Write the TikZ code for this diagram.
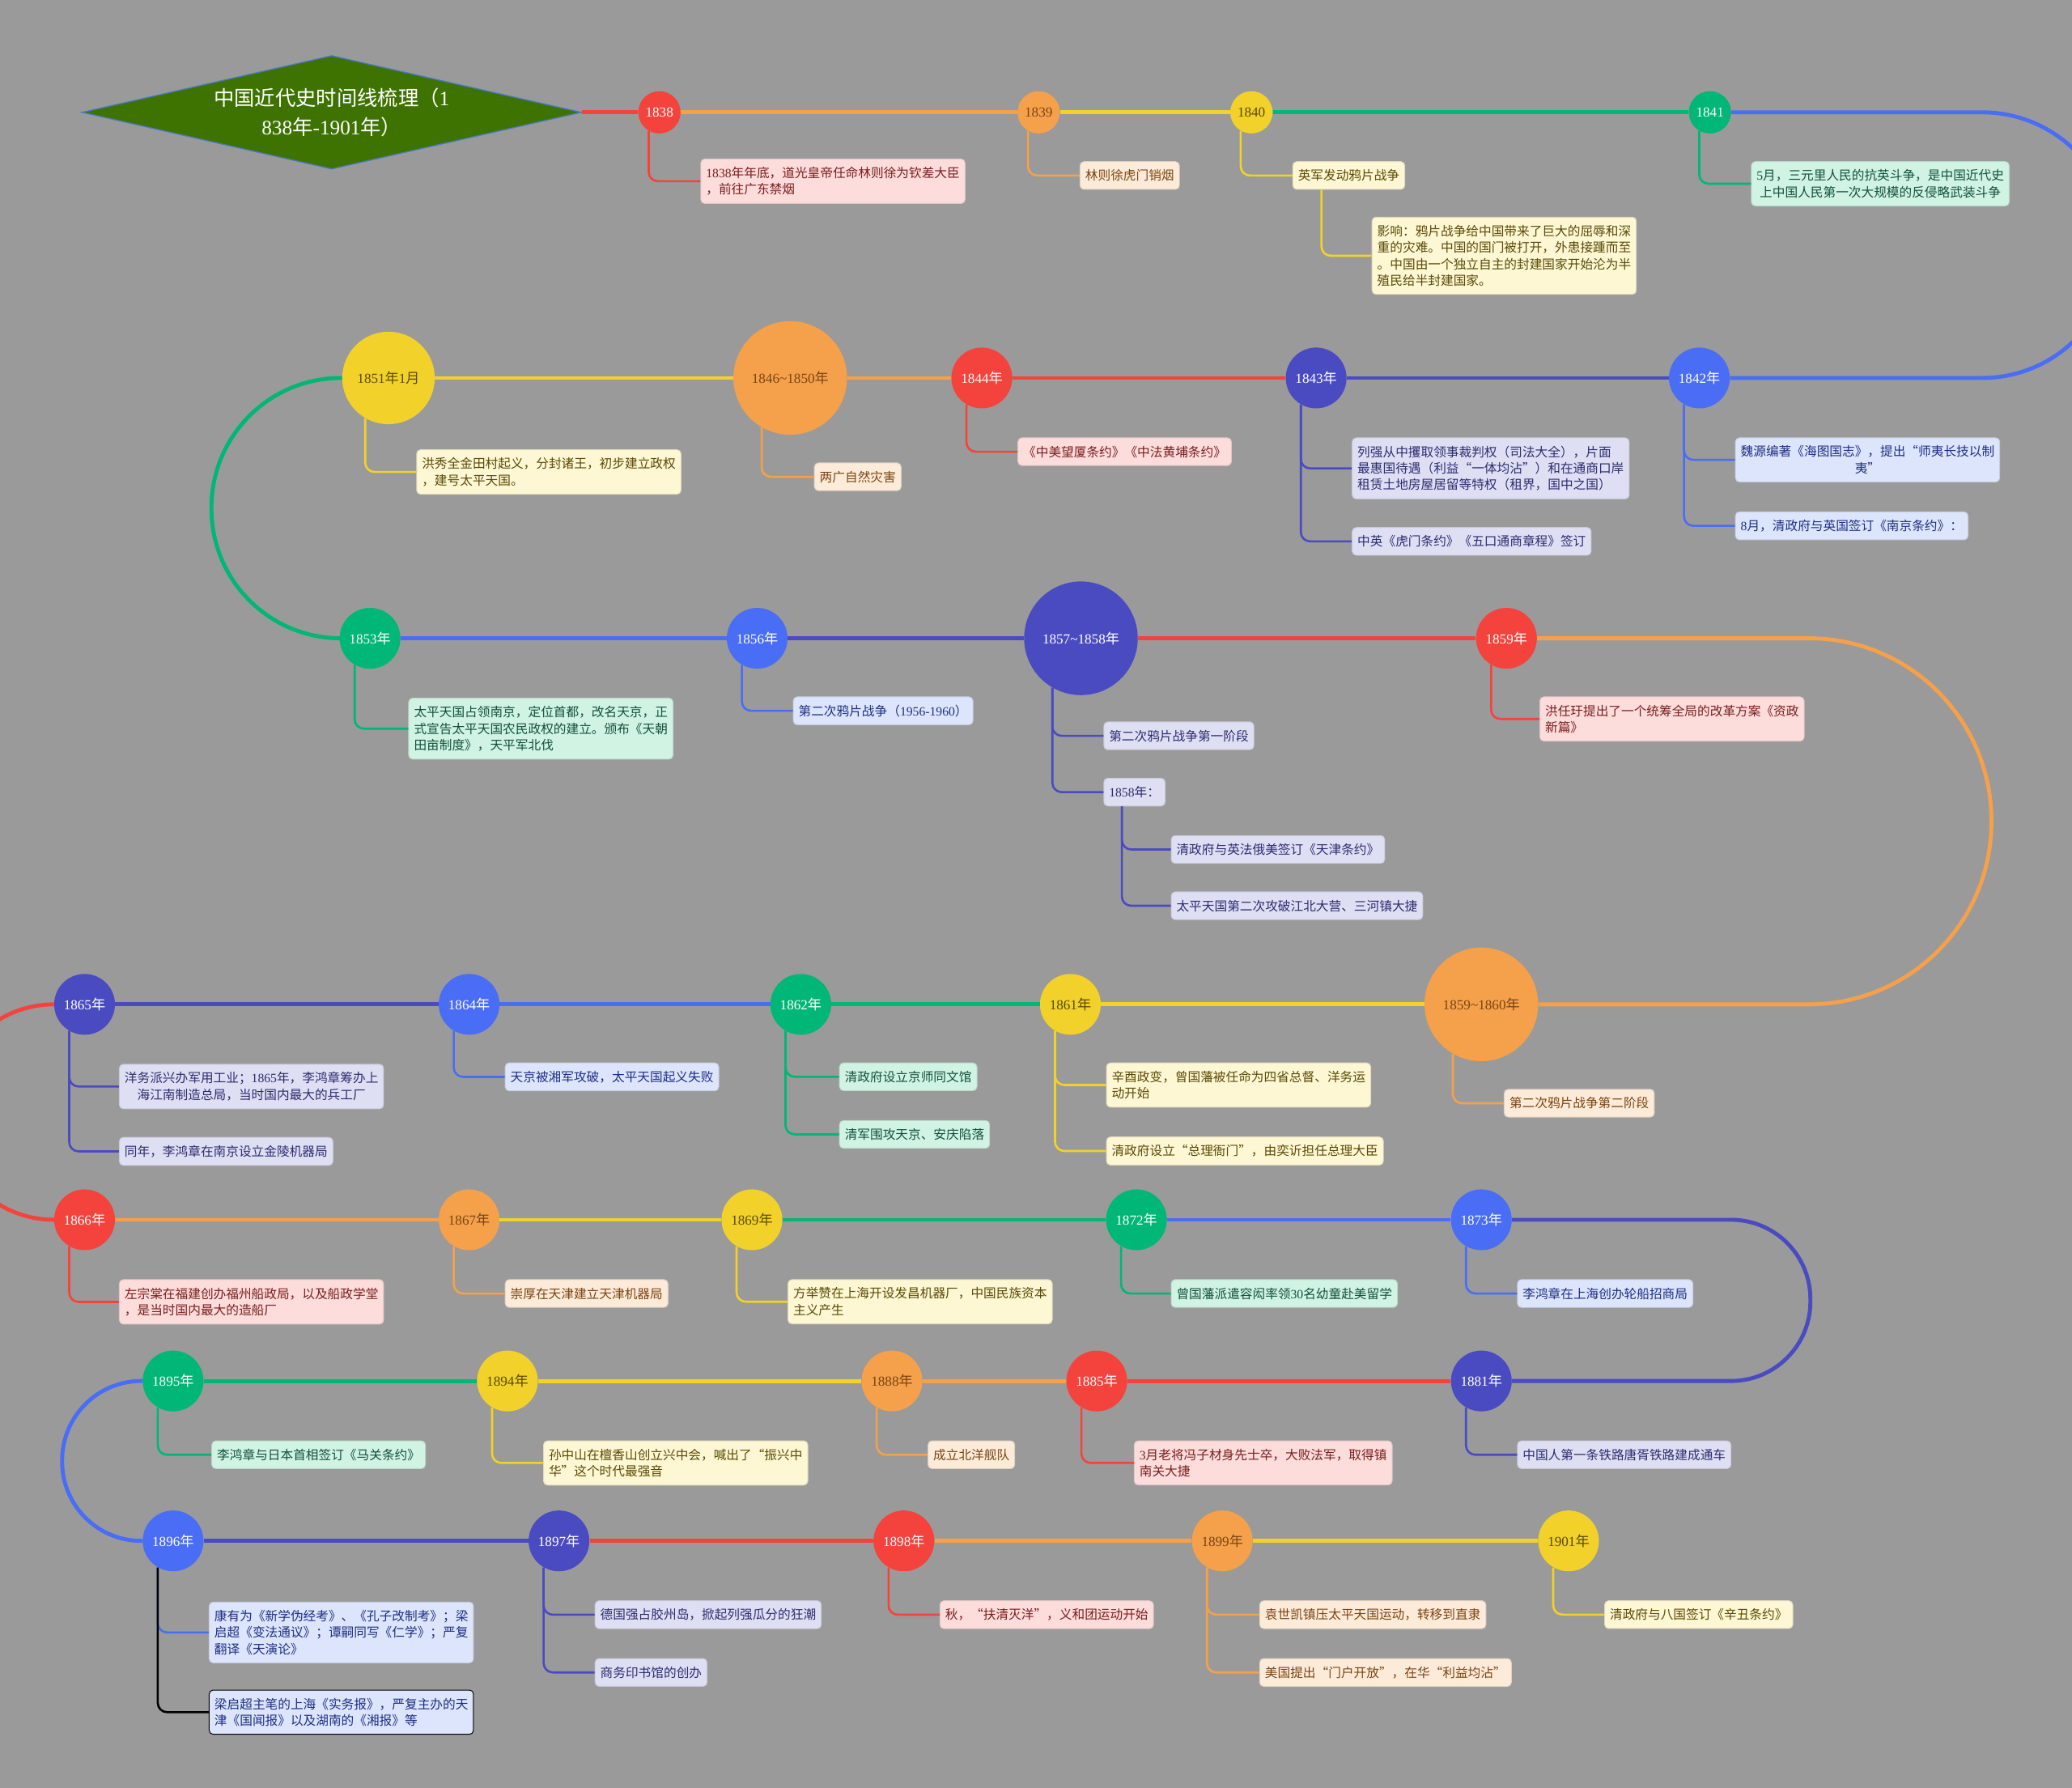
\documentclass[tikz,border=0pt]{standalone}
\usepackage{fontspec}
\setmainfont{Liberation Serif}
\newfontfamily\cjk{Noto Sans CJK SC}
\usetikzlibrary{positioning,shapes.geometric}
\definecolor{MapGray}{HTML}{9A9A9A}
\definecolor{TitleGreen}{HTML}{3E7301}
\definecolor{TitleEdge}{HTML}{4A78C8}
\definecolor{YrRed}{HTML}{F4433C}
\definecolor{YrOrange}{HTML}{F5A04B}
\definecolor{YrYellow}{HTML}{F1D12A}
\definecolor{YrGreen}{HTML}{00B777}
\definecolor{YrBlue}{HTML}{4A6DF5}
\definecolor{YrIndigo}{HTML}{4B4BC1}
\definecolor{SoftRed}{HTML}{FDDCDC}
\definecolor{SoftOrange}{HTML}{FDEBDA}
\definecolor{SoftYellow}{HTML}{FDF7D4}
\definecolor{SoftGreen}{HTML}{D0F3E4}
\definecolor{SoftBlue}{HTML}{DDE5FC}
\definecolor{SoftIndigo}{HTML}{DFDFF4}
\definecolor{InkRed}{HTML}{7A1E1E}
\definecolor{InkOrange}{HTML}{7A4512}
\definecolor{InkYellow}{HTML}{5A4A05}
\definecolor{InkGreen}{HTML}{12503A}
\definecolor{InkBlue}{HTML}{1E2E84}
\definecolor{InkIndigo}{HTML}{2C2C70}
\newcommand{\nian}{{\cjk 年}}
\newcommand{\yue}{{\cjk 月}}
\newcommand{\shu}[1]{{\rmfamily #1}}

\begin{document}
\begin{tikzpicture}[x=1pt,y=-1pt,
 title/.style={diamond,aspect=4.4,draw=TitleEdge,line width=.8pt,fill=TitleGreen,text=white,
               inner sep=0pt,minimum width=378pt,minimum height=86pt,align=center,
               font=\cjk\fontsize{15.5}{22}\selectfont},
 yr/.style={circle,inner sep=0pt,minimum size=46pt,text=white,
            font=\fontsize{10.5}{12}\selectfont},
 yrS/.style={yr,minimum size=32pt},
 yrM/.style={yr,minimum size=70pt},
 yrL/.style={yr,minimum size=86pt},
 cR/.style={fill=YrRed}, cO/.style={fill=YrOrange,text=InkOrange},
 cY/.style={fill=YrYellow,text=InkYellow}, cG/.style={fill=YrGreen},
 cB/.style={fill=YrBlue}, cI/.style={fill=YrIndigo},
 note/.style={rounded corners=3pt,anchor=north west,align=left,line width=.6pt,
              inner xsep=4pt,inner ysep=6pt,minimum height=21pt,
              font=\cjk\fontsize{9.6}{12.5}\selectfont},
 nR/.style={note,fill=SoftRed,draw=SoftRed!75!gray,text=InkRed},
 nO/.style={note,fill=SoftOrange,draw=SoftOrange!75!gray,text=InkOrange},
 nY/.style={note,fill=SoftYellow,draw=SoftYellow!75!gray,text=InkYellow},
 nG/.style={note,fill=SoftGreen,draw=SoftGreen!75!gray,text=InkGreen},
 nB/.style={note,fill=SoftBlue,draw=SoftBlue!75!gray,text=InkBlue},
 nI/.style={note,fill=SoftIndigo,draw=SoftIndigo!75!gray,text=InkIndigo},
 tl/.style={line width=3pt},
 twig/.style={line width=1.6pt,rounded corners=7pt}]
\path[use as bounding box,fill=MapGray] (0,0) rectangle (1568,1353);
\clip (0,0) rectangle (1568,1353);

% row 1
\node[title] (title) at (251,85) {中国近代史时间线梳理（\shu{1}\\\shu{838}年\shu{-1901}年）};
\node[yrS,cR] (y1838) at (499,85) {1838};
\node[yrS,cO] (y1839) at (786,85) {1839};
\node[yrS,cY] (y1840) at (947,85) {1840};
\node[yrS,cG] (y1841) at (1294,85) {1841};
\node[nR] (b1838) at (530,120) {\shu{1838}年年底，道光皇帝任命林则徐为钦差大臣\\，前往广东禁烟};
\node[nO] (b1839) at (817,122) {林则徐虎门销烟};
\node[nY] (b1840) at (978,122) {英军发动鸦片战争};
\node[nY] (b1840x) at (1038,164) {影响：鸦片战争给中国带来了巨大的屈辱和深\\重的灾难。中国的国门被打开，外患接踵而至\\。中国由一个独立自主的封建国家开始沦为半\\殖民给半封建国家。};
\node[nG,align=center] (b1841) at (1325,122) {\shu{5}月，三元里人民的抗英斗争，是中国近代史\\上中国人民第一次大规模的反侵略武装斗争};

% row 2
\node[yr,cB] (y1842) at (1286,286) {1842\nian};
\node[yr,cI] (y1843) at (996,286) {1843\nian};
\node[yr,cR] (y1844) at (743,286) {1844\nian};
\node[yrL,cO] (y1846) at (598,286) {1846\textasciitilde 1850\nian};
\node[yrM,cY] (y1851) at (294,286) {1851\nian 1\yue};
\node[nB,align=center] (b1842a) at (1313,331) {魏源编著《海图国志》，提出“师夷长技以制\\夷”};
\node[nB,below=22pt of b1842a.south west,anchor=north west] (b1842b) {\shu{8}月，清政府与英国签订《南京条约》：};
\node[nI] (b1843a) at (1023,331) {列强从中攫取领事裁判权（司法大全），片面\\最惠国待遇（利益“一体均沾”）和在通商口岸\\租赁土地房屋居留等特权（租界，国中之国）};
\node[nI,below=21pt of b1843a.south west,anchor=north west] (b1843b) {中英《虎门条约》《五口通商章程》签订};
\node[nR] (b1844) at (770,331) {《中美望厦条约》《中法黄埔条约》};
\node[nO] (b1846) at (616,350) {两广自然灾害};
\node[nY] (b1851) at (315,340) {洪秀全金田村起义，分封诸王，初步建立政权\\，建号太平天国。};

% row 3
\node[yr,cG] (y1853) at (280,483) {1853\nian};
\node[yr,cB] (y1856) at (573,483) {1856\nian};
\node[yrL,cI] (y1857) at (818,483) {1857\textasciitilde 1858\nian};
\node[yr,cR] (y1859) at (1140,483) {1859\nian};
\node[nG] (b1853) at (309,528) {太平天国占领南京，定位首都，改名天京，正\\式宣告太平天国农民政权的建立。颁布《天朝\\田亩制度》，天平军北伐};
\node[nB] (b1856) at (600,527) {第二次鸦片战争（\shu{1956-1960}）};
\node[nI] (b1857) at (835,546) {第二次鸦片战争第一阶段};
\node[nI,below=21pt of b1857.south west,anchor=north west] (b1858) {\shu{1858}年：};
\node[nI] (b1858a) at (886,632) {清政府与英法俄美签订《天津条约》};
\node[nI,below=21pt of b1858a.south west,anchor=north west] (b1858b) {太平天国第二次攻破江北大营、三河镇大捷};
\node[nR] (b1859) at (1165,527) {洪任玗提出了一个统筹全局的改革方案《资政\\新篇》};

% row 4
\node[yrL,cO] (y1860) at (1121,760) {1859\textasciitilde 1860\nian};
\node[yr,cY] (y1861) at (810,760) {1861\nian};
\node[yr,cG] (y1862) at (606,760) {1862\nian};
\node[yr,cB] (y1864) at (355,760) {1864\nian};
\node[yr,cI] (y1865) at (64,760) {1865\nian};
\node[nO] (b1860) at (1138,824) {第二次鸦片战争第二阶段};
\node[nY] (b1861a) at (837,804) {辛酉政变，曾国藩被任命为四省总督、洋务运\\动开始};
\node[nY,below=22pt of b1861a.south west,anchor=north west] (b1861b) {清政府设立“总理衙门”，由奕䜣担任总理大臣};
\node[nG] (b1862a) at (635,804) {清政府设立京师同文馆};
\node[nG,below=22pt of b1862a.south west,anchor=north west] (b1862b) {清军围攻天京、安庆陷落};
\node[nB] (b1864) at (382,804) {天京被湘军攻破，太平天国起义失败};
\node[nI,align=center] (b1865a) at (90,805) {洋务派兴办军用工业；\shu{1865}年，李鸿章筹办上\\海江南制造总局，当时国内最大的兵工厂};
\node[nI,below=21pt of b1865a.south west,anchor=north west] (b1865b) {同年，李鸿章在南京设立金陵机器局};

% row 5
\node[yr,cR] (y1866) at (64,923) {1866\nian};
\node[yr,cO] (y1867) at (355,923) {1867\nian};
\node[yr,cY] (y1869) at (569,923) {1869\nian};
\node[yr,cG] (y1872) at (860,923) {1872\nian};
\node[yr,cB] (y1873) at (1121,923) {1873\nian};
\node[nR] (b1866) at (90,968) {左宗棠在福建创办福州船政局，以及船政学堂\\，是当时国内最大的造船厂};
\node[nO] (b1867) at (382,968) {崇厚在天津建立天津机器局};
\node[nY] (b1869) at (596,968) {方举赞在上海开设发昌机器厂，中国民族资本\\主义产生};
\node[nG] (b1872) at (886,968) {曾国藩派遣容闳率领\shu{30}名幼童赴美留学};
\node[nB] (b1873) at (1148,968) {李鸿章在上海创办轮船招商局};

% row 6
\node[yr,cI] (y1881) at (1121,1045) {1881\nian};
\node[yr,cR] (y1885) at (830,1045) {1885\nian};
\node[yr,cO] (y1888) at (675,1045) {1888\nian};
\node[yr,cY] (y1894) at (384,1045) {1894\nian};
\node[yr,cG] (y1895) at (131,1045) {1895\nian};
\node[nG] (b1895) at (160,1090) {李鸿章与日本首相签订《马关条约》};
\node[nY] (b1894) at (411,1090) {孙中山在檀香山创立兴中会，喊出了“振兴中\\华”这个时代最强音};
\node[nO] (b1888) at (702,1090) {成立北洋舰队};
\node[nR] (b1885) at (858,1090) {\shu{3}月老将冯子材身先士卒，大败法军，取得镇\\南关大捷};
\node[nI] (b1881) at (1148,1090) {中国人第一条铁路唐胥铁路建成通车};

% row 7
\node[yr,cB] (y1896) at (131,1166) {1896\nian};
\node[yr,cI] (y1897) at (423,1166) {1897\nian};
\node[yr,cR] (y1898) at (684,1166) {1898\nian};
\node[yr,cO] (y1899) at (925,1166) {1899\nian};
\node[yr,cY] (y1901) at (1187,1166) {1901\nian};
\node[nB] (b1896a) at (158,1212) {康有为《新学伪经考》、《孔子改制考》；梁\\启超《变法通议》；谭嗣同写《仁学》；严复\\翻译《天演论》};
\node[nB,draw=black,below=20pt of b1896a.south west,anchor=north west] (b1896b) {梁启超主笔的上海《实务报》，严复主办的天\\津《国闻报》以及湖南的《湘报》等};
\node[nI] (b1897a) at (450,1211) {德国强占胶州岛，掀起列强瓜分的狂潮};
\node[nI,below=22pt of b1897a.south west,anchor=north west] (b1897b) {商务印书馆的创办};
\node[nR] (b1898) at (711,1211) {秋，“扶清灭洋”，义和团运动开始};
\node[nO] (b1899a) at (953,1211) {袁世凯镇压太平天国运动，转移到直隶};
\node[nO,below=22pt of b1899a.south west,anchor=north west] (b1899b) {美国提出“门户开放”，在华“利益均沾”};
\node[nY] (b1901) at (1214,1211) {清政府与八国签订《辛丑条约》};

% timeline
\draw[tl,YrRed] (title) -- (y1838);
\draw[tl,YrOrange] (y1838) -- (y1839);
\draw[tl,YrYellow] (y1839) -- (y1840);
\draw[tl,YrGreen] (y1840) -- (y1841);
\draw[tl,YrBlue,rounded corners=100pt] (y1841) -- (1600,85) |- (y1842);
\draw[tl,YrIndigo] (y1842) -- (y1843);
\draw[tl,YrRed] (y1843) -- (y1844);
\draw[tl,YrOrange] (y1844) -- (y1846);
\draw[tl,YrYellow] (y1846) -- (y1851);
\draw[tl,YrGreen,rounded corners=98pt] (y1851) -- (160,286) |- (y1853);
\draw[tl,YrBlue] (y1853) -- (y1856);
\draw[tl,YrIndigo] (y1856) -- (y1857);
\draw[tl,YrRed] (y1857) -- (y1859);
\draw[tl,YrOrange,rounded corners=138pt] (y1859) -- (1507,483) |- (y1860);
\draw[tl,YrYellow] (y1860) -- (y1861);
\draw[tl,YrGreen] (y1861) -- (y1862);
\draw[tl,YrBlue] (y1862) -- (y1864);
\draw[tl,YrIndigo] (y1864) -- (y1865);
\draw[tl,YrRed,rounded corners=81pt] (y1865) -- (-40,760) |- (y1866);
\draw[tl,YrOrange] (y1866) -- (y1867);
\draw[tl,YrYellow] (y1867) -- (y1869);
\draw[tl,YrGreen] (y1869) -- (y1872);
\draw[tl,YrBlue] (y1872) -- (y1873);
\draw[tl,YrIndigo,rounded corners=60pt] (y1873) -- (1370,923) |- (y1881);
\draw[tl,YrRed] (y1881) -- (y1885);
\draw[tl,YrOrange] (y1885) -- (y1888);
\draw[tl,YrYellow] (y1888) -- (y1894);
\draw[tl,YrGreen] (y1894) -- (y1895);
\draw[tl,YrBlue,rounded corners=60pt] (y1895) -- (47,1045) |- (y1896);
\draw[tl,YrIndigo] (y1896) -- (y1897);
\draw[tl,YrRed] (y1897) -- (y1898);
\draw[tl,YrOrange] (y1898) -- (y1899);
\draw[tl,YrYellow] (y1899) -- (y1901);

% branches
\draw[twig,YrRed] (y1838.240) |- (b1838.west);
\draw[twig,YrOrange] (y1839.240) |- (b1839.west);
\draw[twig,YrYellow] (y1840.240) |- (b1840.west);
\draw[twig,YrYellow] ([xshift=22pt]b1840.south west) |- (b1840x.west);
\draw[twig,YrGreen] (y1841.240) |- (b1841.west);
\draw[twig,YrBlue] (y1842.240) |- (b1842a.west);
\draw[twig,YrBlue] (y1842.240) |- (b1842b.west);
\draw[twig,YrIndigo] (y1843.240) |- (b1843a.west);
\draw[twig,YrIndigo] (y1843.240) |- (b1843b.west);
\draw[twig,YrRed] (y1844.240) |- (b1844.west);
\draw[twig,YrOrange] (y1846.240) |- (b1846.west);
\draw[twig,YrYellow] (y1851.240) |- (b1851.west);
\draw[twig,YrGreen] (y1853.240) |- (b1853.west);
\draw[twig,YrBlue] (y1856.240) |- (b1856.west);
\draw[twig,YrIndigo] (y1857.240) |- (b1857.west);
\draw[twig,YrIndigo] (y1857.240) |- (b1858.west);
\draw[twig,YrIndigo] ([xshift=14pt]b1858.south west) |- (b1858a.west);
\draw[twig,YrIndigo] ([xshift=14pt]b1858.south west) |- (b1858b.west);
\draw[twig,YrRed] (y1859.240) |- (b1859.west);
\draw[twig,YrOrange] (y1860.240) |- (b1860.west);
\draw[twig,YrYellow] (y1861.240) |- (b1861a.west);
\draw[twig,YrYellow] (y1861.240) |- (b1861b.west);
\draw[twig,YrGreen] (y1862.240) |- (b1862a.west);
\draw[twig,YrGreen] (y1862.240) |- (b1862b.west);
\draw[twig,YrBlue] (y1864.240) |- (b1864.west);
\draw[twig,YrIndigo] (y1865.240) |- (b1865a.west);
\draw[twig,YrIndigo] (y1865.240) |- (b1865b.west);
\draw[twig,YrRed] (y1866.240) |- (b1866.west);
\draw[twig,YrOrange] (y1867.240) |- (b1867.west);
\draw[twig,YrYellow] (y1869.240) |- (b1869.west);
\draw[twig,YrGreen] (y1872.240) |- (b1872.west);
\draw[twig,YrBlue] (y1873.240) |- (b1873.west);
\draw[twig,YrIndigo] (y1881.240) |- (b1881.west);
\draw[twig,YrRed] (y1885.240) |- (b1885.west);
\draw[twig,YrOrange] (y1888.240) |- (b1888.west);
\draw[twig,YrYellow] (y1894.240) |- (b1894.west);
\draw[twig,YrGreen] (y1895.240) |- (b1895.west);
\draw[twig,YrBlue] (y1896.240) |- (b1896a.west);
\draw[twig,black] (y1896.240) |- (b1896b.west);
\draw[twig,YrIndigo] (y1897.240) |- (b1897a.west);
\draw[twig,YrIndigo] (y1897.240) |- (b1897b.west);
\draw[twig,YrRed] (y1898.240) |- (b1898.west);
\draw[twig,YrOrange] (y1899.240) |- (b1899a.west);
\draw[twig,YrOrange] (y1899.240) |- (b1899b.west);
\draw[twig,YrYellow] (y1901.240) |- (b1901.west);
\end{tikzpicture}
\end{document}
